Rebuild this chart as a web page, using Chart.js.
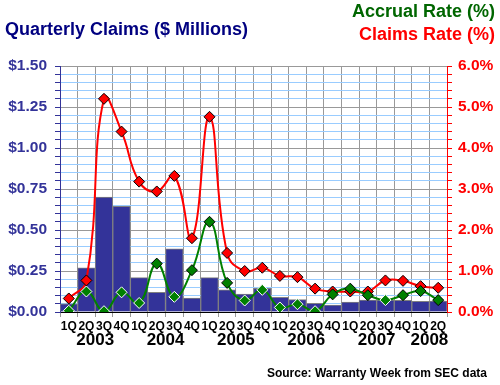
<!DOCTYPE html>
<html>
<head>
<meta charset="utf-8">
<script src="https://cdn.jsdelivr.net/npm/chart.js@4/dist/chart.umd.min.js"></script>
<style>
  body { margin: 0; background: #fff; }
</style>
</head>
<body>
<canvas id="chart" width="500" height="385"></canvas>
<script>
// quarters and the year each belongs to
const quarterLabels = ['1Q','2Q','3Q','4Q','1Q','2Q','3Q','4Q','1Q','2Q','3Q','4Q',
                       '1Q','2Q','3Q','4Q','1Q','2Q','3Q','4Q','1Q','2Q'];
const quarterYears = ['2003','2003','2003','2003','2004','2004','2004','2004',
                      '2005','2005','2005','2005','2006','2006','2006','2006',
                      '2007','2007','2007','2007','2008','2008'];

// claims paid, $ millions
const claims = [0.05, 0.27, 0.70, 0.645, 0.21, 0.12, 0.385, 0.085, 0.21, 0.135, 0.11,
                0.145, 0.09, 0.075, 0.053, 0.042, 0.06, 0.073, 0.073, 0.071, 0.065, 0.067];
// claims rate, %
const claimsRate = [0.33, 0.77, 5.2, 4.4, 3.18, 2.94, 3.32, 1.8, 4.76, 1.44, 1.0,
                    1.08, 0.88, 0.85, 0.57, 0.5, 0.5, 0.5, 0.77, 0.76, 0.63, 0.59];
// accrual rate, %
const accrualRate = [0.03, 0.5, 0.02, 0.48, 0.22, 1.18, 0.37, 1.02, 2.2, 0.71, 0.28,
                     0.54, 0.11, 0.19, 0.02, 0.43, 0.57, 0.41, 0.29, 0.41, 0.51, 0.29];

const FONT = 'Arial, "Liberation Sans", sans-serif';

// titles, year labels and source line
const textPlugin = {
  id: 'texts',
  afterDraw(chart) {
    const ctx = chart.ctx;
    const xs = chart.scales.x;
    ctx.save();
    ctx.textBaseline = 'middle';

    ctx.font = 'bold 18px ' + FONT;
    ctx.fillStyle = '#000080';
    ctx.textAlign = 'left';
    ctx.fillText('Quarterly Claims ($ Millions)', 5, 30);

    ctx.font = 'bold 18px ' + FONT;
    ctx.textAlign = 'right';
    ctx.fillStyle = '#006600';
    ctx.fillText('Accrual Rate (%)', 495, 12);
    ctx.fillStyle = '#ff0000';
    ctx.fillText('Claims Rate (%)', 495, 35);

    // year under the middle of its quarters
    const groups = {};
    quarterYears.forEach((y, i) => {
      (groups[y] = groups[y] || []).push(xs.getPixelForValue(i));
    });
    ctx.font = 'bold 17px ' + FONT;
    ctx.fillStyle = '#000';
    ctx.textAlign = 'center';
    Object.keys(groups).forEach(y => {
      const px = groups[y];
      ctx.fillText(y, px.reduce((a, b) => a + b, 0) / px.length, 340);
    });

    ctx.font = 'bold 12px ' + FONT;
    ctx.textAlign = 'right';
    ctx.fillText('Source: Warranty Week from SEC data', 487, 374);
    ctx.restore();
  }
};

const isMajor = (v, step) => Math.abs(v / step - Math.round(v / step)) < 1e-6;

new Chart(document.getElementById('chart'), {
  data: {
    labels: quarterLabels,
    datasets: [
      {
        type: 'line',
        label: 'Accrual Rate (%)',
        data: accrualRate,
        yAxisID: 'y2',
        borderColor: '#008000',
        borderWidth: 2,
        tension: 0.45,
        pointStyle: 'rectRot',
        pointRadius: 5.5,
        pointBackgroundColor: '#008000',
        // white outline where the marker sits on a bar
        pointBorderColor: c => accrualRate[c.dataIndex] / 4 < claims[c.dataIndex] ? '#fff' : '#000',
        pointBorderWidth: 1,
        order: 1
      },
      {
        type: 'line',
        label: 'Claims Rate (%)',
        data: claimsRate,
        yAxisID: 'y2',
        borderColor: '#ff0000',
        borderWidth: 2,
        tension: 0.45,
        pointStyle: 'rectRot',
        pointRadius: 5.5,
        pointBackgroundColor: '#ff0000',
        pointBorderColor: '#000',
        pointBorderWidth: 1,
        order: 2
      },
      {
        type: 'bar',
        label: 'Claims',
        data: claims,
        yAxisID: 'y',
        backgroundColor: '#333399',
        borderColor: '#808080',
        borderWidth: 1,
        barPercentage: 1,
        categoryPercentage: 1,
        order: 3
      }
    ]
  },
  options: {
    responsive: false,
    animation: false,
    layout: { padding: { top: 66, bottom: 0, left: 0, right: 0 } },
    plugins: { legend: { display: false }, tooltip: { enabled: false } },
    scales: {
      x: {
        grid: { color: '#999999', offset: true, tickLength: 5 },
        border: { color: '#000' },
        ticks: { color: '#000', font: { family: FONT, weight: 'bold', size: 12 },
                 maxRotation: 0, autoSkip: false, padding: 2 },
        afterFit: s => { s.height = 73; }
      },
      y: {
        position: 'left',
        min: 0, max: 1.5,
        grid: {
          color: c => isMajor(c.tick.value, 0.25) ? '#999999' : '#99ccff',
          tickColor: '#333399',
          tickLength: 5
        },
        border: { color: '#333399' },
        ticks: {
          stepSize: 0.05,
          autoSkip: false,
          padding: 8,
          color: '#333399',
          font: { family: FONT, weight: 'bold', size: 15.5 },
          callback: v => isMajor(v, 0.25) ? '$' + v.toFixed(2) : ''
        },
        afterFit: s => { s.width = 60; }
      },
      y2: {
        position: 'right',
        min: 0, max: 6,
        grid: { drawOnChartArea: false, color: '#ff0000', tickLength: 5 },
        border: { color: '#ff0000' },
        ticks: {
          stepSize: 0.2,
          autoSkip: false,
          padding: 6,
          color: '#ff0000',
          font: { family: FONT, weight: 'bold', size: 15.5 },
          callback: v => isMajor(v, 1) ? v.toFixed(1) + '%' : ''
        },
        afterFit: s => { s.width = 53; }
      }
    }
  },
  plugins: [textPlugin]
});
</script>
</body>
</html>
